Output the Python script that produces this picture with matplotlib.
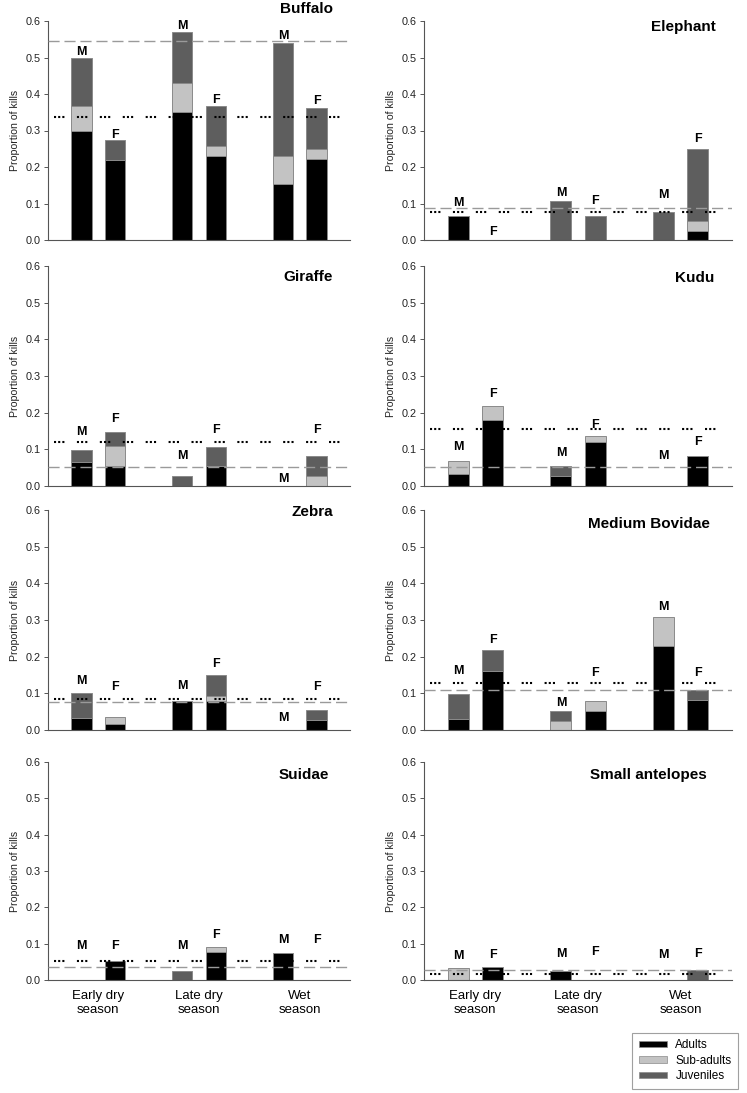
import numpy as np
import matplotlib
matplotlib.use("Agg")
import matplotlib.pyplot as plt
from matplotlib.patches import Patch

plt.rcParams['font.family'] = ['Liberation Sans', 'DejaVu Sans']

# data (order of bars: early M, early F, late M, late F, wet M, wet F)
species = ["Buffalo", "Elephant", "Giraffe", "Kudu",
           "Zebra", "Medium Bovidae", "Suidae", "Small antelopes"]
seasons = ["Early dry\nseason", "Late dry\nseason", "Wet\nseason"]
sexes = ["M", "F", "M", "F", "M", "F"]

adults = [
    [0.300, 0.218, 0.351, 0.230, 0.153, 0.223],
    [0.066, 0.000, 0.000, 0.000, 0.000, 0.026],
    [0.066, 0.054, 0.000, 0.054, 0.000, 0.000],
    [0.033, 0.181, 0.026, 0.121, 0.000, 0.083],
    [0.032, 0.016, 0.080, 0.079, 0.000, 0.026],
    [0.031, 0.161, 0.000, 0.051, 0.229, 0.082],
    [0.000, 0.052, 0.000, 0.078, 0.074, 0.000],
    [0.000, 0.035, 0.026, 0.000, 0.000, 0.000],
]
subadults = [
    [0.066, 0.000, 0.080, 0.027, 0.078, 0.026],
    [0.000, 0.000, 0.000, 0.000, 0.000, 0.027],
    [0.000, 0.054, 0.000, 0.000, 0.000, 0.027],
    [0.034, 0.037, 0.000, 0.015, 0.000, 0.000],
    [0.000, 0.019, 0.000, 0.014, 0.000, 0.000],
    [0.000, 0.000, 0.025, 0.029, 0.079, 0.000],
    [0.000, 0.000, 0.000, 0.014, 0.000, 0.000],
    [0.032, 0.000, 0.000, 0.000, 0.000, 0.000],
]
juveniles = [
    [0.134, 0.055, 0.138, 0.109, 0.310, 0.114],
    [0.000, 0.000, 0.108, 0.067, 0.077, 0.197],
    [0.033, 0.038, 0.027, 0.053, 0.000, 0.056],
    [0.000, 0.000, 0.028, 0.000, 0.000, 0.000],
    [0.068, 0.000, 0.000, 0.056, 0.000, 0.029],
    [0.067, 0.056, 0.027, 0.000, 0.000, 0.028],
    [0.000, 0.000, 0.025, 0.000, 0.000, 0.000],
    [0.000, 0.000, 0.000, 0.000, 0.000, 0.027],
]
dashed_ref = [0.545, 0.087, 0.051, 0.051, 0.077, 0.108, 0.037, 0.028]
dotted_ref = [0.337, 0.076, 0.120, 0.156, 0.085, 0.128, 0.053, 0.017]

# heights (letter centres) of the M / F labels
label_y = [
    [0.518, 0.291, 0.591, 0.389, 0.563, 0.385],
    [0.105, 0.027, 0.133, 0.112, 0.128, 0.281],
    [0.152, 0.186, 0.086, 0.156, 0.023, 0.156],
    [0.110, 0.255, 0.093, 0.171, 0.087, 0.125],
    [0.137, 0.121, 0.123, 0.183, 0.037, 0.121],
    [0.164, 0.249, 0.077, 0.159, 0.341, 0.159],
    [0.098, 0.098, 0.098, 0.128, 0.113, 0.115],
    [0.069, 0.073, 0.076, 0.080, 0.073, 0.076],
]
title_xy = [(8.48, 0.636), (8.53, 0.586), (8.48, 0.573), (8.48, 0.570),
            (8.50, 0.597), (8.36, 0.564), (8.36, 0.567), (8.27, 0.567)]

x = np.array([1, 2, 4, 5, 7, 8])
c_ad, c_sub, c_juv = "#000000", "#c3c3c3", "#5e5e5e"

W, H = 747, 1093
fig = plt.figure(figsize=(W / 100, H / 100), dpi=100)

col_x = [(48, 302), (424, 308)]
row_y = [(21, 240), (266, 486), (510, 730), (762, 980)]

for i, name in enumerate(species):
    r, c = divmod(i, 2)
    x0, w = col_x[c]
    top, bot = row_y[r]
    ax = fig.add_axes([x0 / W, 1 - bot / H, w / W, (bot - top) / H])

    a = np.array(adults[i])
    s = np.array(subadults[i])
    j = np.array(juveniles[i])
    for vals, base, col in [(a, 0, c_ad), (s, a, c_sub), (j, a + s, c_juv)]:
        lw = np.where(vals > 0, 0.7, 0)
        ax.bar(x, vals, bottom=base, width=0.61, color=col,
               edgecolor="#8a8a8a", linewidth=lw, zorder=2)

    ax.axhline(dashed_ref[i], color="#9a9a9a", lw=1.0,
               dashes=(8, 3.5), zorder=3)
    ax.axhline(dotted_ref[i], xmin=0.02, xmax=0.98, color="black", lw=1.5,
               dashes=(1, 1, 1, 1, 1, 6), zorder=3)

    # baseline = letter centre minus half cap height (~0.012 in data units)
    for xi, sx, ly in zip(x, sexes, label_y[i]):
        ax.text(xi, ly - 0.0125, sx, ha="center", va="baseline",
                fontsize=9, fontweight="bold", zorder=4)

    tx, ty = title_xy[i]
    ax.text(tx, ty - 0.014, name, ha="right", va="baseline", fontsize=11,
            fontweight="bold", clip_on=False)

    ax.set_xlim(0, 9)
    ax.set_ylim(0, 0.6)
    ax.set_yticks(np.arange(0, 0.61, 0.1))
    ax.set_yticklabels([f"{v:.1f}" for v in np.arange(0, 0.61, 0.1)])
    ax.tick_params(axis="y", labelsize=7.8, length=3, width=0.7,
                   color="#555555", labelcolor="#222222", pad=2)
    ax.set_ylabel("Proportion of kills", fontsize=7.6, color="#222222",
                  labelpad=4)
    ax.spines[["top", "right"]].set_visible(False)
    for sp in ["left", "bottom"]:
        ax.spines[sp].set_color("#555555")
        ax.spines[sp].set_linewidth(0.8)

    if r == 3:
        ax.set_xticks([1.5, 4.5, 7.5])
        ax.set_xticklabels(seasons, fontsize=9.5, linespacing=1.25)
        ax.tick_params(axis="x", length=0, pad=7)
    else:
        ax.set_xticks([])

handles = [Patch(facecolor=c_ad, edgecolor="#8a8a8a", lw=0.5),
           Patch(facecolor=c_sub, edgecolor="#8a8a8a", lw=0.5),
           Patch(facecolor=c_juv, edgecolor="#8a8a8a", lw=0.5)]
leg = fig.legend(handles, ["Adults", "Sub-adults", "Juveniles"],
                 loc="upper right", bbox_to_anchor=(738 / W, 1 - 1033 / H),
                 fontsize=8.5, frameon=True, fancybox=False,
                 handlelength=2.4, handleheight=0.45, labelspacing=0.28,
                 borderpad=0.55, handletextpad=0.7, borderaxespad=0)
leg.get_frame().set_edgecolor("#888888")
leg.get_frame().set_linewidth(0.8)

fig.savefig("out.png", dpi=100)
